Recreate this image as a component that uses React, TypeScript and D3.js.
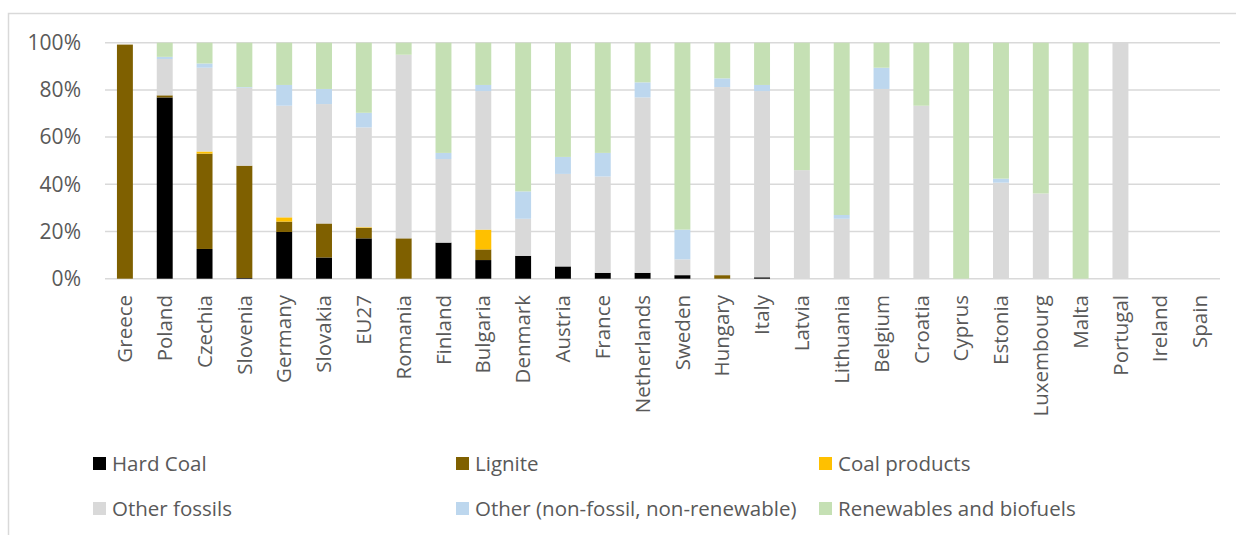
import React from "react";
import * as d3 from "d3";

const categories = ["Greece","Poland","Czechia","Slovenia","Germany","Slovakia","EU27","Romania","Finland","Bulgaria","Denmark","Austria","France","Netherlands","Sweden","Hungary","Italy","Latvia","Lithuania","Belgium","Croatia","Cyprus","Estonia","Luxembourg","Malta","Portugal","Ireland","Spain"];

const hardCoal =       [0, 76.8, 12.6, 0.3, 19.8, 9.0, 17.1, 0, 15.3, 7.9, 9.7, 5.2, 2.5, 2.5, 1.5, 0, 0.6, 0, 0, 0, 0, 0, 0, 0, 0, 0, 0, 0];
const lignite =        [99.2, 0.9, 40.4, 47.6, 4.4, 14.4, 4.4, 17.1, 0, 4.5, 0, 0, 0, 0, 0, 1.5, 0, 0, 0, 0, 0, 0, 0, 0, 0, 0, 0, 0];
const coalProducts =   [0, 0, 0.9, 0, 1.8, 0, 0.3, 0, 0, 8.4, 0, 0, 0, 0, 0, 0, 0, 0, 0, 0, 0, 0, 0, 0, 0, 0, 0, 0];
const otherFossils =   [0, 15.4, 35.5, 33.0, 47.3, 50.6, 42.3, 77.8, 35.4, 58.7, 15.7, 39.2, 40.8, 74.3, 6.7, 79.7, 78.9, 46.0, 25.4, 80.4, 73.3, 0, 40.7, 36.1, 0, 100, 0, 0];
const otherNonFossil = [0, 0.9, 1.8, 0.3, 8.8, 6.4, 6.2, 0, 2.6, 2.6, 11.6, 7.2, 10.0, 6.4, 12.6, 3.7, 2.6, 0, 1.6, 9.0, 0, 0, 1.7, 0, 0, 0, 0, 0];
const renewables =     [0, 6.0, 8.8, 18.8, 17.9, 19.6, 29.7, 5.1, 46.7, 17.9, 63.0, 48.4, 46.7, 16.8, 79.2, 15.1, 17.9, 54.0, 73.0, 10.6, 26.7, 100, 57.6, 63.9, 100, 0, 0, 0];

const seriesNames = ["Hard Coal", "Lignite", "Coal products", "Other fossils", "Other (non-fossil, non-renewable)", "Renewables and biofuels"];
const seriesValues = [hardCoal, lignite, coalProducts, otherFossils, otherNonFossil, renewables];
const seriesColors = ["#000000", "#7F6000", "#FFC000", "#D9D9D9", "#BDD7EE", "#C5E0B4"];
const yTicks = [0, 20, 40, 60, 80, 100];

const FONT = "'Open Sans', sans-serif";
const TEXT = "#595959";

export default function App() {
  const W = 1236, H = 535;
  const left = 105, right = 1220, top = 42.7, bottom = 278.7;

  const x = d3.scaleBand<string>().domain(categories).range([left, right]).paddingInner(0.6).paddingOuter(0.3);
  const y = d3.scaleLinear().domain([0, 100]).range([bottom, top]);

  const rows = categories.map((c, i) => {
    const r: any = { cat: c };
    seriesNames.forEach((s, k) => (r[s] = seriesValues[k][i]));
    return r;
  });
  const stacked = d3.stack<any>().keys(seriesNames)(rows);

  const legendCols = [93, 456, 819];
  const legendRows = [463.5, 508.5];

  return (
    <svg width={W} height={H} style={{ position: "absolute", left: 0, top: 0, display: "block" }} fontFamily={FONT}>
      <rect x={0} y={0} width={W} height={H} fill="#fff" />
      <rect x={8.5} y={13.5} width={1240} height={540} fill="none" stroke="#D9D9D9" strokeWidth={1.5} />
      {yTicks.map((t) => (
        <g key={t}>
          <line x1={left} x2={right} y1={y(t)} y2={y(t)} stroke="#D9D9D9" strokeWidth={1.5} />
          <text x={81} y={y(t)} dy="0.35em" textAnchor="end" fontSize={21} fill={TEXT}>{t}%</text>
        </g>
      ))}
      {stacked.map((layer, k) => (
        <g key={layer.key} fill={seriesColors[k]}>
          {layer.map((d, i) => {
            const h = y(d[0]) - y(d[1]);
            if (h <= 0) return null;
            return <rect key={i} x={x(categories[i])} width={x.bandwidth()} y={y(d[1])} height={h} />;
          })}
        </g>
      ))}
      {categories.map((c) => (
        <text key={c} transform={`translate(${(x(c) as number) + x.bandwidth() / 2},295) rotate(-90)`} dy="0.35em" textAnchor="end" fontSize={20.5} fill={TEXT}>{c}</text>
      ))}
      {seriesNames.map((s, k) => {
        const cx = legendCols[k % 3];
        const cy = legendRows[Math.floor(k / 3)];
        return (
          <g key={s}>
            <rect x={cx} y={cy - 6.5} width={13} height={13} fill={seriesColors[k]} />
            <text x={cx + 19} y={cy} dy="0.35em" fontSize={20.5} fill={TEXT}>{s}</text>
          </g>
        );
      })}
    </svg>
  );
}
